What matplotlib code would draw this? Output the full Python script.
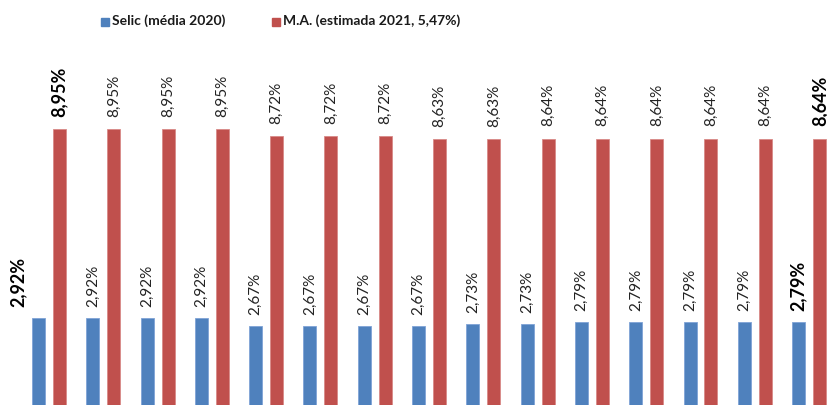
import numpy as np
import matplotlib.pyplot as plt
from matplotlib.patches import Rectangle

# dados
selic = [2.92, 2.92, 2.92, 2.92, 2.67, 2.67, 2.67, 2.67, 2.73, 2.73, 2.79, 2.79, 2.79, 2.79, 2.79]
ma = [8.95, 8.95, 8.95, 8.95, 8.72, 8.72, 8.72, 8.63, 8.63, 8.64, 8.64, 8.64, 8.64, 8.64, 8.64]
selic_label = "Selic (média 2020)"
ma_label = "M.A. (estimada 2021, 5,47%)"

plt.rcParams['font.family'] = ['Lato', 'DejaVu Sans']

blue = '#4F81BD'
red = '#C0504D'

def fmt(v):
    return f"{v:.2f}%".replace('.', ',')

fig = plt.figure(figsize=(8.27, 4.05), dpi=100)
ax = fig.add_axes([0, 0, 1, 1])

x = np.arange(len(selic))
w = 0.24
off = 0.193
ax.bar(x - off, selic, w, color=blue, edgecolor='#7fa3d6', linewidth=0.6)
ax.bar(x + off, ma, w, color=red, edgecolor='#d98a88', linewidth=0.6)

n = len(selic)
for i in range(n):
    bold = i == 0 or i == n - 1
    kw = dict(rotation=90, ha='center', va='bottom', color='#222222' if not bold else 'black',
              fontsize=13 if bold else 11, fontweight='bold' if bold else 'normal')
    dx = -15 if i == 0 else 0
    ax.annotate(fmt(selic[i]), (x[i] - off, selic[i]), xytext=(dx, 8),
                textcoords='offset points', **kw)
    ax.annotate(fmt(ma[i]), (x[i] + off, ma[i]), xytext=(0, 9),
                textcoords='offset points', **kw)

ax.set_xlim(-0.902, 14.33)
ax.set_ylim(0.144, 13.07)
ax.axis('off')

# legenda manual no topo
W, H = 827, 405
for color, label, px in [(blue, selic_label, 101), (red, ma_label, 272)]:
    fig.add_artist(Rectangle((px / W, (H - 26) / H), 8 / W, 8 / H, color=color,
                             transform=fig.transFigure))
    fig.text((px + 11) / W, (H - 21) / H, label, ha='left', va='center',
             fontsize=10, fontweight='bold', color='#1a1a1a')

fig.savefig('out.png', dpi=100)
